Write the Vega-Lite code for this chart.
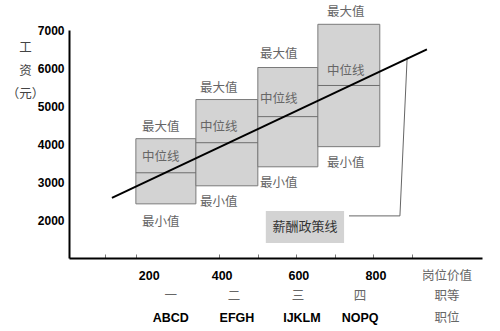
{
  "$schema": "https://vega.github.io/schema/vega-lite/v6.json",
  "width": 413,
  "height": 228,
  "autosize": {"type": "none"},
  "padding": {"left": 69, "top": 30, "right": 18, "bottom": 73},
  "background": "white",
  "config": {"view": {"stroke": null}},
  "datasets": {
    "boxes": [
      {"grade": "一", "x0": 176, "x1": 334, "min": 2425, "med": 3243, "max": 4140},
      {"grade": "二", "x0": 334, "x1": 497, "min": 2900, "med": 4034, "max": 5170},
      {"grade": "三", "x0": 497, "x1": 655, "min": 3400, "med": 4720, "max": 6013},
      {"grade": "四", "x0": 655, "x1": 818, "min": 3930, "med": 5540, "max": 7150}
    ],
    "policy": [
      {"x": 113, "y": 2583, "order": 1},
      {"x": 942, "y": 6488, "order": 2}
    ],
    "callout": [
      {"x": 890, "y": 6277, "order": 1},
      {"x": 871, "y": 2108, "order": 2},
      {"x": 737, "y": 2108, "order": 3}
    ],
    "policyBox": [
      {"x0": 518, "x1": 724, "y0": 1396, "y1": 2240, "xc": 621, "yc": 1818, "label": "薪酬政策线"}
    ],
    "boxLabels": [
      {"x": 192, "y": 4456, "text": "最大值"},
      {"x": 192, "y": 3665, "text": "中位线"},
      {"x": 192, "y": 1950, "text": "最小值"},
      {"x": 345, "y": 5485, "text": "最大值"},
      {"x": 345, "y": 4456, "text": "中位线"},
      {"x": 345, "y": 2478, "text": "最小值"},
      {"x": 503, "y": 6356, "text": "最大值"},
      {"x": 503, "y": 5195, "text": "中位线"},
      {"x": 503, "y": 2979, "text": "最小值"},
      {"x": 679, "y": 7464, "text": "最大值"},
      {"x": 679, "y": 5934, "text": "中位线"},
      {"x": 679, "y": 3507, "text": "最小值"}
    ],
    "cjkBottom": [
      {"x": 268, "y": 0, "text": "一"},
      {"x": 434, "y": 0, "text": "二"},
      {"x": 603, "y": 0, "text": "三"},
      {"x": 766, "y": 0, "text": "四"},
      {"x": 995, "y": 525, "text": "岗位价值"},
      {"x": 995, "y": 0, "text": "职等"},
      {"x": 995, "y": -583, "text": "职位"}
    ],
    "boldBottom": [
      {"x": 211, "y": 525, "text": "200"},
      {"x": 403, "y": 525, "text": "400"},
      {"x": 605, "y": 525, "text": "600"},
      {"x": 808, "y": 525, "text": "800"},
      {"x": 268, "y": -583, "text": "ABCD"},
      {"x": 442, "y": -583, "text": "EFGH"},
      {"x": 613, "y": -583, "text": "IJKLM"},
      {"x": 766, "y": -583, "text": "NOPQ"}
    ]
  },
  "layer": [
    {
      "data": {"name": "boxes"},
      "mark": {"type": "rect", "fill": "#d3d3d3", "stroke": "#7a7a7a", "strokeWidth": 1},
      "encoding": {
        "x": {
          "field": "x0", "type": "quantitative",
          "scale": {"domain": [0, 1087], "nice": false, "zero": false},
          "axis": {
            "title": null, "labels": false, "grid": false,
            "values": [95, 176, 395, 497, 597, 700, 800, 903],
            "tickSize": -4, "tickColor": "#777", "tickWidth": 1,
            "domainColor": "black", "domainWidth": 2
          }
        },
        "x2": {"field": "x1"},
        "y": {
          "field": "min", "type": "quantitative",
          "scale": {"domain": [1000, 7000], "nice": false, "zero": false},
          "axis": {
            "values": [2000, 3000, 4000, 5000, 6000, 7000],
            "format": "d",
            "grid": false, "tickSize": 0, "labelPadding": 5,
            "labelFont": "Liberation Sans", "labelFontWeight": "bold",
            "labelFontSize": 12, "labelColor": "black",
            "domainColor": "black", "domainWidth": 2,
            "title": ["工", "资", "（元）"],
            "titleAngle": 0, "titleAlign": "center", "titleBaseline": "top",
            "titleX": -44, "titleY": 11, "titleLineHeight": 23,
            "titleFont": "Noto Sans CJK SC", "titleFontWeight": "normal",
            "titleFontSize": 12.5, "titleColor": "#444"
          }
        },
        "y2": {"field": "max"}
      }
    },
    {
      "data": {"name": "boxes"},
      "mark": {"type": "rule", "color": "#6e6e6e", "strokeWidth": 1},
      "encoding": {
        "x": {"field": "x0", "type": "quantitative"},
        "x2": {"field": "x1"},
        "y": {"field": "med", "type": "quantitative"}
      }
    },
    {
      "data": {"name": "callout"},
      "mark": {"type": "line", "color": "#666", "strokeWidth": 1},
      "encoding": {
        "x": {"field": "x", "type": "quantitative"},
        "y": {"field": "y", "type": "quantitative"},
        "order": {"field": "order"}
      }
    },
    {
      "data": {"name": "policy"},
      "mark": {"type": "line", "color": "black", "strokeWidth": 2},
      "encoding": {
        "x": {"field": "x", "type": "quantitative"},
        "y": {"field": "y", "type": "quantitative"},
        "order": {"field": "order"}
      }
    },
    {
      "data": {"name": "policyBox"},
      "mark": {"type": "rect", "fill": "#d3d3d3"},
      "encoding": {
        "x": {"field": "x0", "type": "quantitative"},
        "x2": {"field": "x1"},
        "y": {"field": "y0", "type": "quantitative"},
        "y2": {"field": "y1"}
      }
    },
    {
      "data": {"name": "policyBox"},
      "mark": {"type": "text", "font": "Noto Sans CJK SC", "fontSize": 13, "color": "#333", "align": "center", "baseline": "middle"},
      "encoding": {
        "x": {"field": "xc", "type": "quantitative"},
        "y": {"field": "yc", "type": "quantitative"},
        "text": {"field": "label"}
      }
    },
    {
      "data": {"name": "boxLabels"},
      "mark": {"type": "text", "font": "Noto Sans CJK SC", "fontSize": 12.5, "color": "#666", "align": "left", "baseline": "middle"},
      "encoding": {
        "x": {"field": "x", "type": "quantitative"},
        "y": {"field": "y", "type": "quantitative"},
        "text": {"field": "text"}
      }
    },
    {
      "data": {"name": "cjkBottom"},
      "mark": {"type": "text", "font": "Noto Sans CJK SC", "fontSize": 12.5, "color": "#666", "align": "center", "baseline": "middle"},
      "encoding": {
        "x": {"field": "x", "type": "quantitative"},
        "y": {"field": "y", "type": "quantitative"},
        "text": {"field": "text"}
      }
    },
    {
      "data": {"name": "boldBottom"},
      "mark": {"type": "text", "font": "Liberation Sans", "fontWeight": "bold", "fontSize": 12.5, "color": "black", "align": "center", "baseline": "middle"},
      "encoding": {
        "x": {"field": "x", "type": "quantitative"},
        "y": {"field": "y", "type": "quantitative"},
        "text": {"field": "text"}
      }
    }
  ]
}
